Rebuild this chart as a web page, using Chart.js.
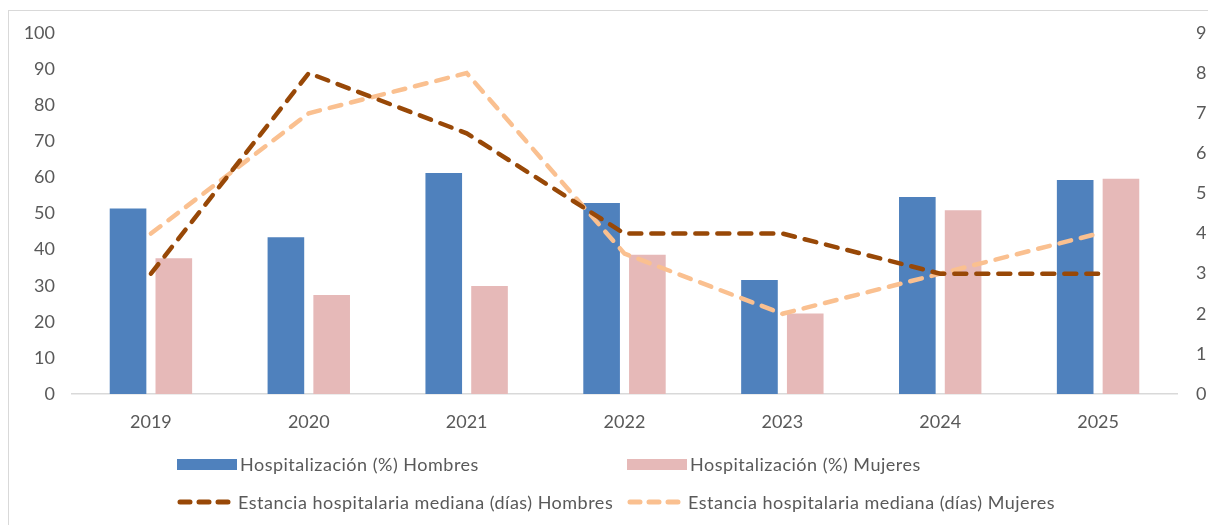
<!DOCTYPE html>
<html>
<head>
<meta charset="utf-8">
<script src="https://cdn.jsdelivr.net/npm/chart.js@4"></script>
<style>
    html, body { margin: 0; padding: 0; background: #fff; overflow: hidden; }
    body { width: 1208px; height: 525px; position: relative; font-family: Lato, "Noto Sans", sans-serif; }
    #frame { position: absolute; left: 8px; top: 10px; width: 1300px; height: 600px; border: 1px solid #d9d9d9; box-sizing: border-box; }
    #wrap { position: absolute; left: 0; top: 0; width: 1208px; height: 525px; }
    .legend-item { position: absolute; display: flex; align-items: center; font-size: 18px; letter-spacing: 0.5px; color: #595959; white-space: nowrap; }
    .legend-item .swatch { width: 60px; height: 11px; margin-right: 3px; }
    .legend-item svg { margin-right: 5px; }
</style>
</head>
<body>
<div id="frame"></div>
<div id="wrap"><canvas id="chartCanvas" width="1208" height="525"></canvas></div>
<div id="legend"></div>
<script>
const years = ['2019', '2020', '2021', '2022', '2023', '2024', '2025'];
const hospHombres = [51.4, 43.4, 61.2, 52.9, 31.6, 54.6, 59.3];
const hospMujeres = [37.6, 27.4, 29.9, 38.6, 22.3, 50.9, 59.6];
const estanciaHombres = [3, 8, 6.5, 4, 4, 3, 3];
const estanciaMujeres = [4, 7, 8, 3.5, 2, 3, 4];
const leftTicks = [0, 10, 20, 30, 40, 50, 60, 70, 80, 90, 100];
const rightTicks = [0, 1, 2, 3, 4, 5, 6, 7, 8, 9];

const labels = {
    hh: 'Hospitalización (%) Hombres',
    hm: 'Hospitalización (%) Mujeres',
    eh: 'Estancia hospitalaria mediana (días) Hombres',
    em: 'Estancia hospitalaria mediana (días) Mujeres'
};

const colors = {
    hh: '#4f81bd',
    hm: '#e6b9b8',
    eh: '#984807',
    em: '#fac090'
};

const tickFont = { family: 'Lato, "Noto Sans", sans-serif', size: 18 };
const dash = [12, 10];

const ctx = document.getElementById('chartCanvas').getContext('2d');
new Chart(ctx, {
    type: 'bar',
    data: {
        labels: years,
        datasets: [
            { type: 'line', label: labels.eh, data: estanciaHombres, yAxisID: 'y2', borderColor: colors.eh, borderWidth: 4.5, borderDash: dash, borderCapStyle: 'round', pointRadius: 0, fill: false, tension: 0, order: 0 },
            { type: 'line', label: labels.em, data: estanciaMujeres, yAxisID: 'y2', borderColor: colors.em, borderWidth: 4.5, borderDash: dash, borderCapStyle: 'round', pointRadius: 0, fill: false, tension: 0, order: 1 },
            { label: labels.hh, data: hospHombres, yAxisID: 'y', backgroundColor: colors.hh, order: 2 },
            { label: labels.hm, data: hospMujeres, yAxisID: 'y', backgroundColor: colors.hm, order: 3 }
        ]
    },
    options: {
        responsive: false,
        animation: false,
        categoryPercentage: 0.58,
        barPercentage: 0.8,
        layout: { padding: { top: 33, bottom: 85, left: 0, right: 0 } },
        scales: {
            x: {
                grid: { display: false, drawTicks: false },
                border: { display: true, color: '#d9d9d9', width: 1.5 },
                ticks: { color: '#595959', font: tickFont, padding: 17 },
                afterFit: (scale) => { scale.height = 46; }
            },
            y: {
                position: 'left',
                min: 0, max: 100,
                afterBuildTicks: (scale) => { scale.ticks = leftTicks.map(v => ({ value: v })); },
                grid: { display: false, drawTicks: false },
                border: { display: false },
                ticks: { color: '#595959', font: tickFont, padding: 17 },
                afterFit: (scale) => { scale.width = 72; }
            },
            y2: {
                position: 'right',
                min: 0, max: 9,
                afterBuildTicks: (scale) => { scale.ticks = rightTicks.map(v => ({ value: v })); },
                grid: { display: false, drawTicks: false },
                border: { display: false },
                ticks: { color: '#595959', font: tickFont, padding: 19 },
                afterFit: (scale) => { scale.width = 31; }
            }
        },
        plugins: {
            legend: { display: false },
            tooltip: { enabled: false }
        }
    }
});

// legend laid out in two columns like the original
const legendItems = [
    { key: 'hh', kind: 'bar', x: 177, y: 465 },
    { key: 'hm', kind: 'bar', x: 627, y: 465 },
    { key: 'eh', kind: 'line', x: 177, y: 503 },
    { key: 'em', kind: 'line', x: 627, y: 503 }
];
const legendEl = document.getElementById('legend');
legendItems.forEach(item => {
    const div = document.createElement('div');
    div.className = 'legend-item';
    div.style.left = item.x + 'px';
    div.style.top = (item.y - 12) + 'px';
    div.style.height = '22px';
    if (item.kind === 'bar') {
        const sw = document.createElement('span');
        sw.className = 'swatch';
        sw.style.background = colors[item.key];
        div.appendChild(sw);
    } else {
        div.insertAdjacentHTML('beforeend',
            `<svg width="56" height="12"><line x1="3" y1="6" x2="53" y2="6" stroke="${colors[item.key]}" stroke-width="5" stroke-linecap="round" stroke-dasharray="10 9"/></svg>`);
    }
    const txt = document.createElement('span');
    txt.textContent = labels[item.key];
    div.appendChild(txt);
    legendEl.appendChild(div);
});
</script>
</body>
</html>
